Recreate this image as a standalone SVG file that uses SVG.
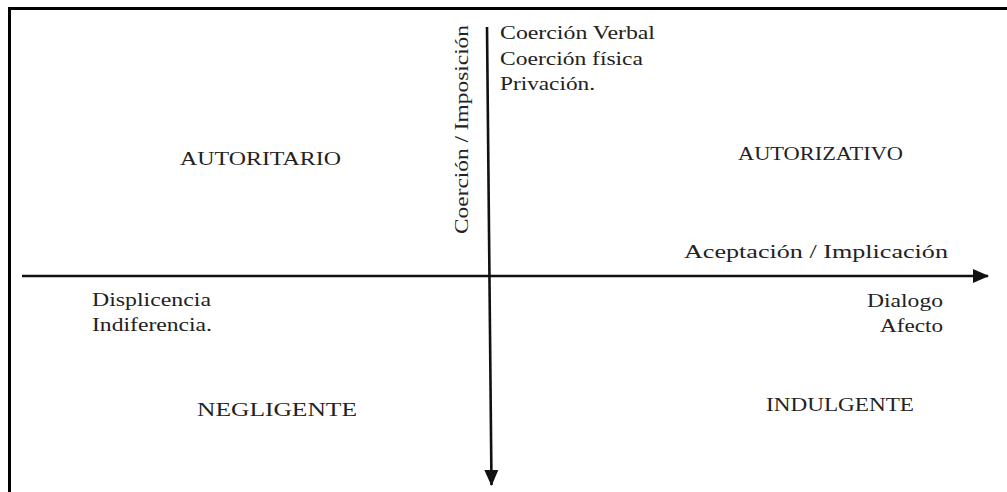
<svg xmlns="http://www.w3.org/2000/svg" width="1007" height="492" viewBox="0 0 1007 492">
  <style>
    .t { font-family: "Liberation Serif", "Times New Roman", serif; font-size: 19.5px; fill: #222; }
    .axis { stroke: #111; stroke-width: 2.6; fill: none; }
    .frame { stroke: #000; stroke-width: 3; fill: none; }
  </style>
  <defs>
    <marker id="arrow" markerUnits="userSpaceOnUse" markerWidth="16" markerHeight="14" refX="15" refY="7" orient="auto">
      <path d="M0,0 L16,7 L0,14 Z" fill="#111"/>
    </marker>
  </defs>
  <rect width="1007" height="492" fill="#fff"/>
  <g id="frame">
    <path class="frame" d="M9.5,492 L9.5,8.5 L1007,8.5"/>
  </g>
  <g id="connectors">
    <line class="axis" x1="22" y1="276" x2="988" y2="276" marker-end="url(#arrow)"/>
    <line class="axis" x1="487" y1="27" x2="491.5" y2="485" marker-end="url(#arrow)"/>
  </g>
  <g id="axis-y-label">
    <text class="t" transform="translate(468,234) rotate(-90)" textLength="209" lengthAdjust="spacingAndGlyphs">Coerción / Imposición</text>
  </g>
  <g id="axis-x-label">
    <text class="t" x="684" y="258" textLength="264" lengthAdjust="spacingAndGlyphs">Aceptación / Implicación</text>
  </g>
  <g id="coercion-list">
    <text class="t" x="500" y="39" textLength="155" lengthAdjust="spacingAndGlyphs">Coerción Verbal</text>
    <text class="t" x="500" y="65" textLength="143" lengthAdjust="spacingAndGlyphs">Coerción física</text>
    <text class="t" x="500" y="90" textLength="95" lengthAdjust="spacingAndGlyphs">Privación.</text>
  </g>
  <g id="autoritario">
    <text class="t" x="180" y="165" textLength="161" lengthAdjust="spacingAndGlyphs">AUTORITARIO</text>
  </g>
  <g id="autorizativo">
    <text class="t" x="738" y="160" textLength="165" lengthAdjust="spacingAndGlyphs">AUTORIZATIVO</text>
  </g>
  <g id="displicencia-list">
    <text class="t" x="92" y="306" textLength="119" lengthAdjust="spacingAndGlyphs">Displicencia</text>
    <text class="t" x="92" y="331" textLength="120" lengthAdjust="spacingAndGlyphs">Indiferencia.</text>
  </g>
  <g id="dialogo-list">
    <text class="t" x="867" y="307" textLength="76" lengthAdjust="spacingAndGlyphs">Dialogo</text>
    <text class="t" x="880" y="332" textLength="63" lengthAdjust="spacingAndGlyphs">Afecto</text>
  </g>
  <g id="negligente">
    <text class="t" x="197" y="416" textLength="160" lengthAdjust="spacingAndGlyphs">NEGLIGENTE</text>
  </g>
  <g id="indulgente">
    <text class="t" x="766" y="411" textLength="148" lengthAdjust="spacingAndGlyphs">INDULGENTE</text>
  </g>
</svg>
